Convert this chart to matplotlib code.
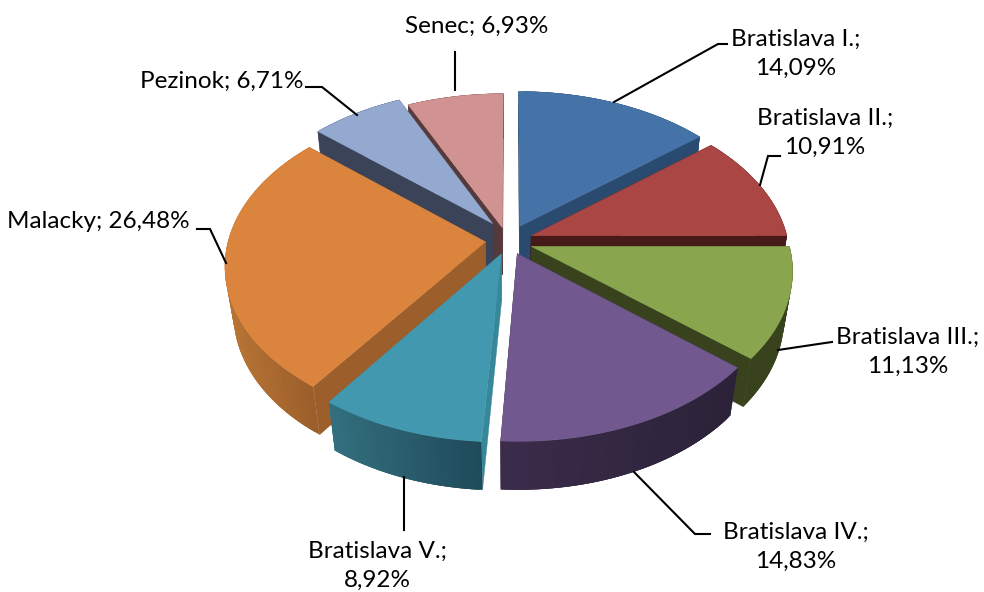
import numpy as np
import matplotlib
matplotlib.use('Agg')
import matplotlib.pyplot as plt
from matplotlib.colors import to_rgb
from matplotlib.patches import Polygon

names = ['Bratislava I.', 'Bratislava II.', 'Bratislava III.', 'Bratislava IV.',
         'Bratislava V.', 'Malacky', 'Pezinok', 'Senec']
values = [14.09, 10.91, 11.13, 14.83, 8.92, 26.48, 6.71, 6.93]

top_colors = ['#4573a7', '#aa4644', '#89a54e', '#71588f', '#4298af', '#db843d', '#93a9cf', '#d19392']
cut_colors = ['#2a4a70', '#451a18', '#38431e', '#30233e', '#37879b', '#9c5f2b', '#3a4358', '#56393a']
# outer wall colour at the left and right end of each slice
wall_left = ['#2a4a70', '#451a18', '#38431e', '#3b2c4b', '#33707f', '#b87535', '#3a4358', '#56393a']
wall_right = ['#2a4a70', '#451a18', '#38431e', '#2b2238', '#1f4a5a', '#9c5f2b', '#3a4358', '#56393a']

# painter's order, back to front
draw_order = [7, 6, 0, 1, 2, 5, 3, 4]

# projection of the pie, in pixels
CX, CY = 508, 243
RX, RY = 257, 157
DEPTH = 48.5
PERSP, PERSP_Z = 0.14, 0.03
EXPLODE = 0.1
# small pixel corrections of the exploded position
nudge = [(1, -3), (-1, -2), (-1, -2), (-1, -4), (2, -4), (3, -3), (0, -7), (0, 0)]


def project(u, t, z=0.0):
    s = 1 / (1 - PERSP * t + PERSP_Z * z)
    return RX * u * s, (RY * t + DEPTH * z) * s


def slice_xy(theta, mid, z, nudge_xy):
    # theta runs clockwise from 12 o'clock, t points at the viewer
    u = np.sin(theta) + EXPLODE * np.sin(mid)
    t = -np.cos(theta) - EXPLODE * np.cos(mid)
    x, y = project(u, t, z)
    return np.column_stack([CX + nudge_xy[0] + x, CY + nudge_xy[1] + y])


fig = plt.figure(figsize=(9.84, 5.92), dpi=100)
ax = fig.add_axes([0, 0, 1, 1])
ax.set_xlim(0, 984)
ax.set_ylim(592, 0)
ax.axis('off')

edges = 2 * np.pi * np.cumsum([0] + values) / sum(values)

for i in draw_order:
    a0, a1 = edges[i], edges[i + 1]
    mid = (a0 + a1) / 2
    n = nudge[i]
    arc = np.linspace(a0, a1, 80)
    top_arc = slice_xy(arc, mid, 0, n)
    bot_arc = slice_xy(arc, mid, 1, n)
    apex_top = np.array(project(EXPLODE * np.sin(mid), -EXPLODE * np.cos(mid), 0)) + (CX + n[0], CY + n[1])
    apex_bot = np.array(project(EXPLODE * np.sin(mid), -EXPLODE * np.cos(mid), 1)) + (CX + n[0], CY + n[1])

    # the two cut faces
    for k in (0, -1):
        ax.add_patch(Polygon([apex_top, top_arc[k], bot_arc[k], apex_bot],
                             closed=True, fc=cut_colors[i], ec=cut_colors[i], lw=0.3, zorder=1))

    # outer wall in overlapping strips so it can carry a gradient without seams
    xmin, xmax = top_arc[:, 0].min(), top_arc[:, 0].max()
    c0, c1 = np.array(to_rgb(wall_left[i])), np.array(to_rgb(wall_right[i]))
    for j in range(len(arc) - 1):
        j2 = min(j + 3, len(arc) - 1)
        f = (top_arc[j, 0] - xmin) / max(xmax - xmin, 1)
        ax.add_patch(Polygon(np.vstack([top_arc[j:j2 + 1], bot_arc[j:j2 + 1][::-1]]),
                             closed=True, fc=c0 + (c1 - c0) * f, lw=0, zorder=1))

    ax.add_patch(Polygon(np.vstack([apex_top, top_arc]), closed=True,
                         fc=top_colors[i], ec=top_colors[i], lw=0.3, zorder=1))

# label anchor, and leader line for every slice
label_pos = [(796, 54), (825, 133), (908, 352), (796, 547), (377, 566), (98, 222), (222, 81), (477, 26)]
two_lines = [True, True, True, True, True, False, False, False]
leaders = [
    [(727, 44), (718, 44), (614, 102)],
    [(780, 156), (768, 156), (760, 185)],
    [(832, 342), (825, 343), (778, 350)],
    [(710, 534), (695, 534), (634, 472)],
    [(404, 530), (404, 477)],
    [(197, 229), (210, 229), (226, 263)],
    [(306, 87), (322, 87), (357, 115)],
    [(455, 52), (455, 90)],
]

for name, val, pos, wrap, line in zip(names, values, label_pos, two_lines, leaders):
    sep = '\n' if wrap else ' '
    pct = f"{val:.2f}".replace('.', ',')
    ax.text(pos[0], pos[1], f"{name};{sep}{pct}%", ha='center', va='center', fontsize=17.5,
            family='Lato', color='black', linespacing=1.5, zorder=5)
    xs, ys = zip(*line)
    ax.plot(xs, ys, color='black', lw=1.5, solid_joinstyle='miter', zorder=4)

plt.savefig('out.png', dpi=100)
plt.close()
